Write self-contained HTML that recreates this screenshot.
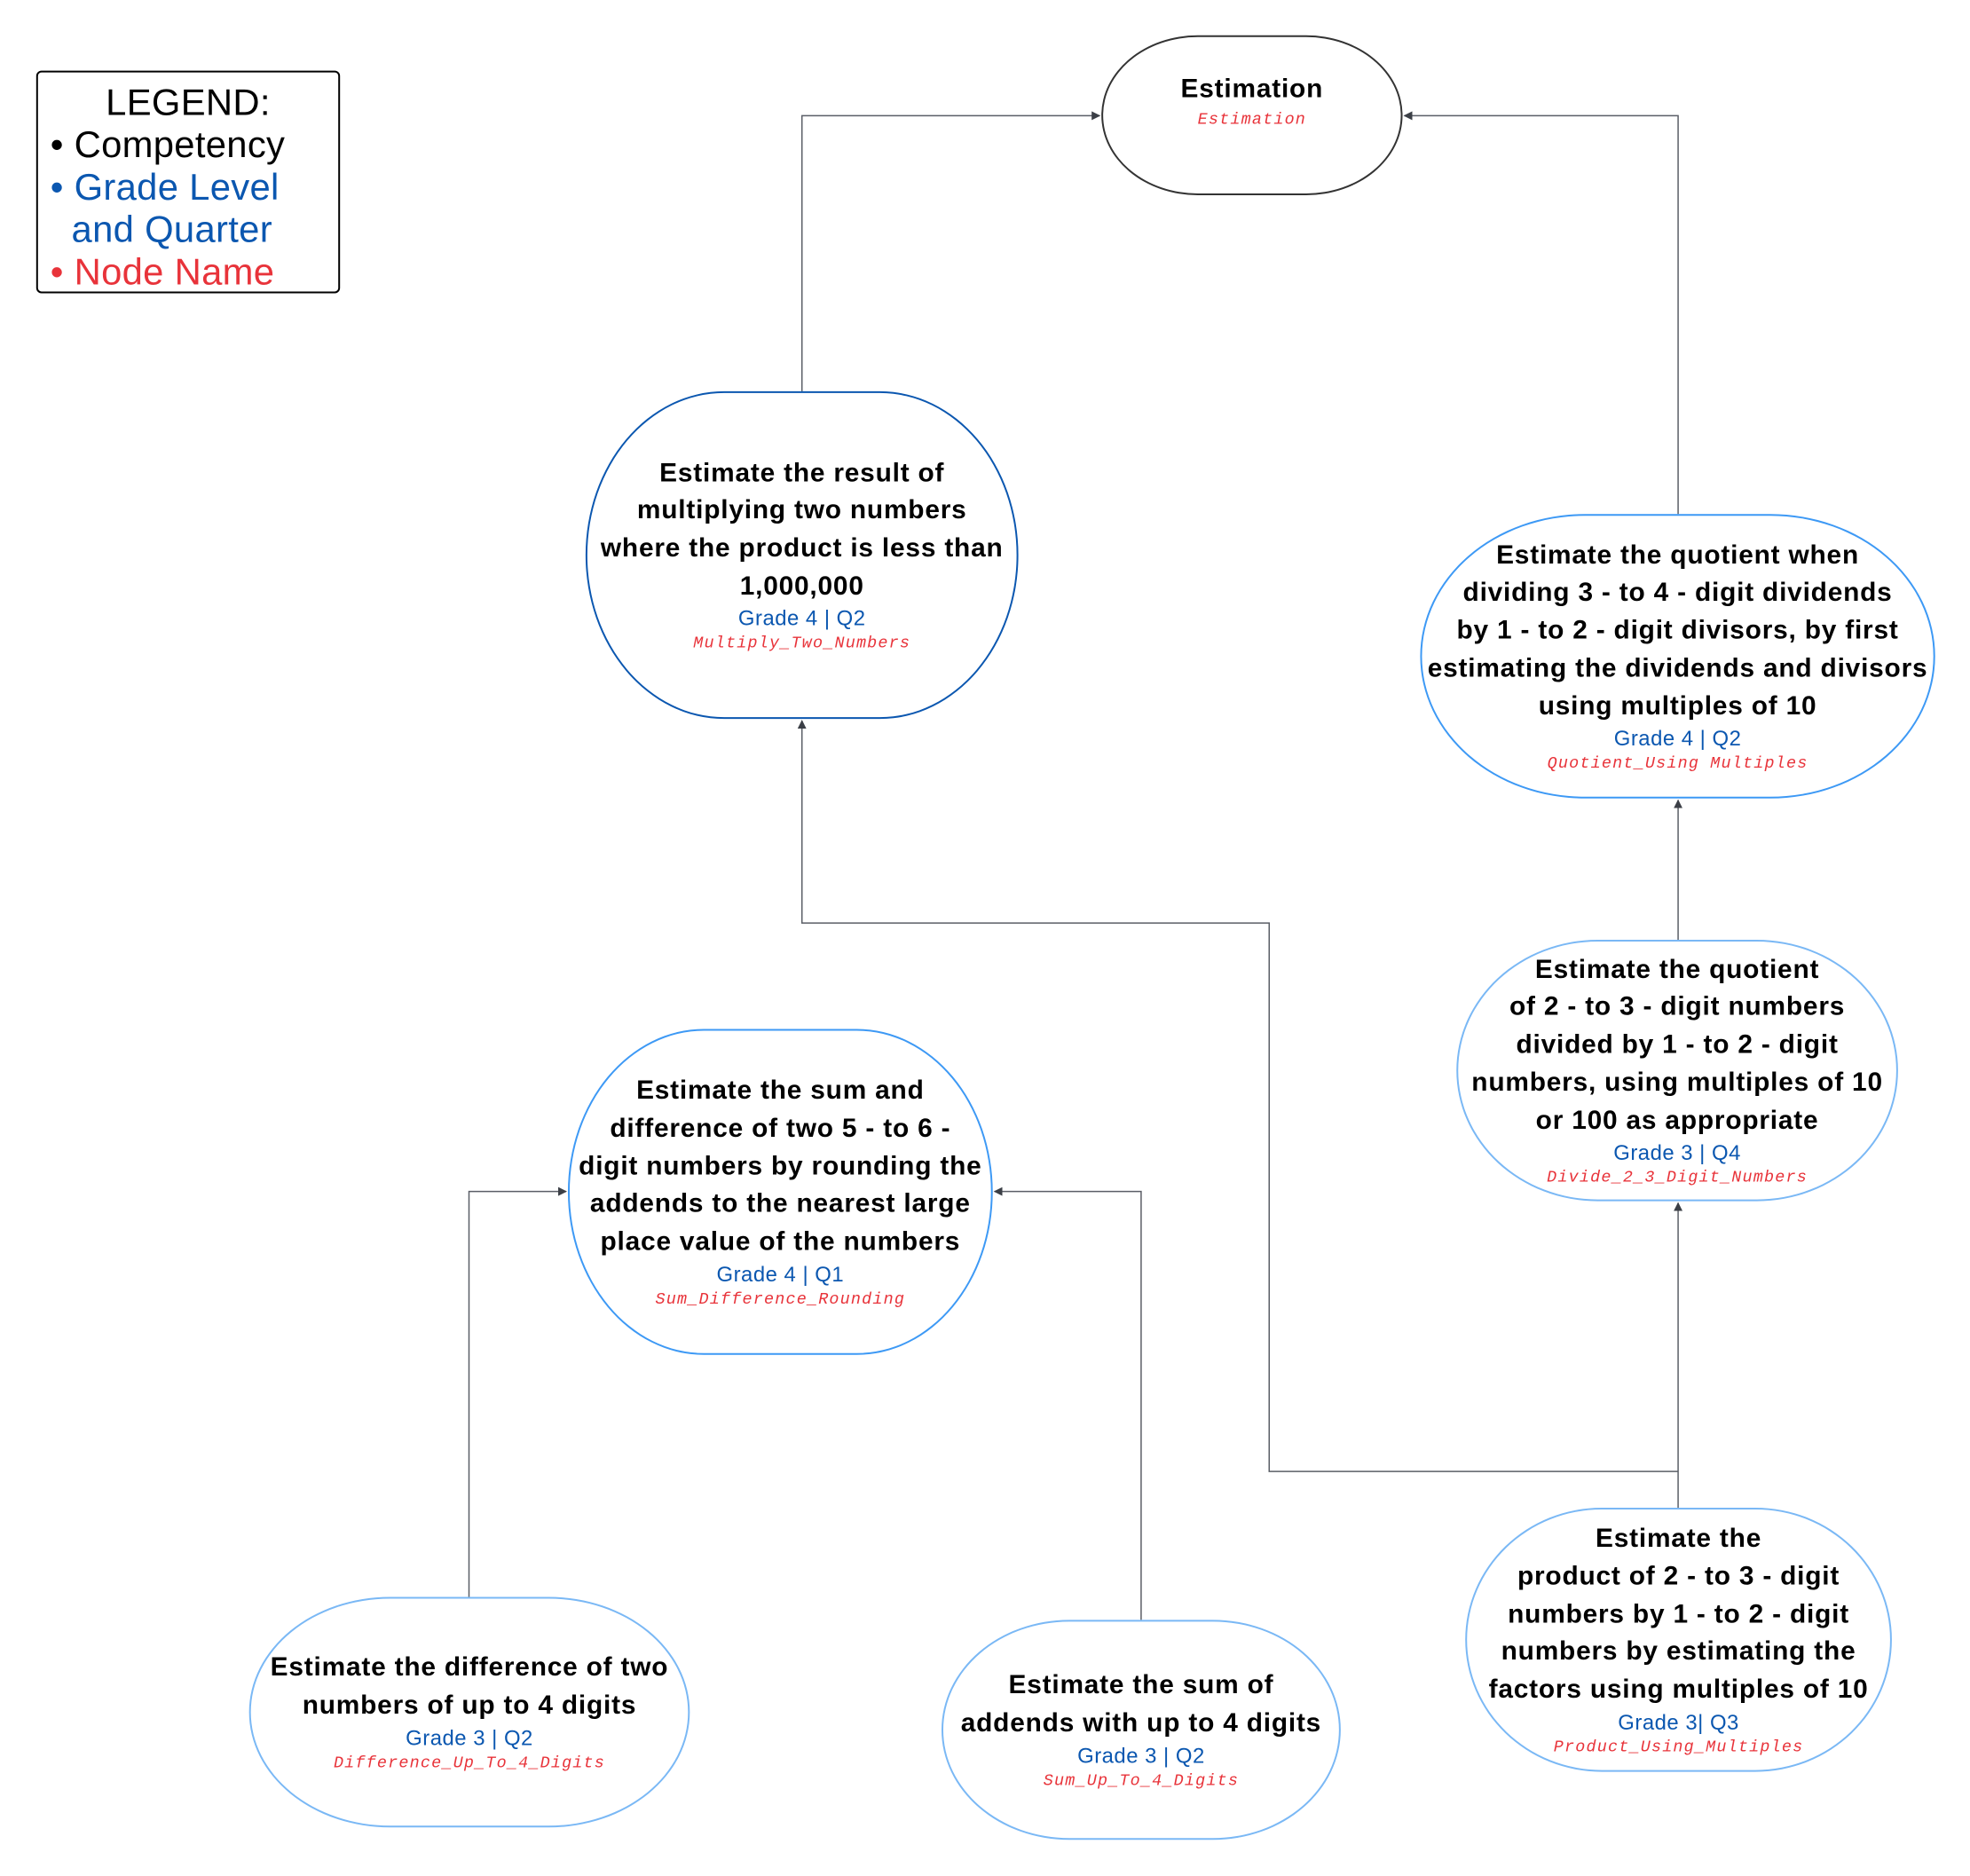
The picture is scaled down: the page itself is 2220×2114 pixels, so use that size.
<!DOCTYPE html>
<html><head><meta charset="utf-8"><style>
html,body{margin:0;padding:0;background:#fff}
body{width:2220px;height:2114px;position:relative;overflow:hidden;font-family:"Liberation Sans",sans-serif}
#w{position:absolute;left:0;top:0;width:2230px;height:2124px;transform:scale(0.9953);transform-origin:0 0}
.n{position:absolute;box-sizing:border-box;display:flex;flex-direction:column;align-items:center;justify-content:center;text-align:center;border:2px solid #3d99f5;border-radius:32%/50%;background:#fff}
.t{font-weight:bold;font-size:30px;line-height:42.7px;color:#000;letter-spacing:0.8px;white-space:nowrap}
.g{font-size:24px;line-height:31px;color:#0b57b0;letter-spacing:0.5px}
.k{font-family:"Liberation Mono",monospace;font-style:italic;font-size:18.5px;line-height:26px;color:#e8333a;letter-spacing:1.2px}
.legend{position:absolute;left:41px;top:80px;width:344px;height:252px;box-sizing:border-box;border:2px solid #000;border-radius:6px;font-size:42px;line-height:48px;padding:10px 0 0 14px;letter-spacing:0.3px}
svg{position:absolute;left:0;top:0}
</style></head><body><div id="w">
<svg width="2230" height="2124">
<defs><marker id="a" markerWidth="10" markerHeight="10" refX="9" refY="5" orient="auto" markerUnits="userSpaceOnUse"><path d="M0,0 L10,5 L0,10 z" fill="#3b3f46"/></marker></defs>
<g fill="none" stroke="#5a5e66" stroke-width="1.5">
<path d="M908,443 V131 H1245" marker-end="url(#a)"/>
<path d="M1900,582 V131 H1590" marker-end="url(#a)"/>
<path d="M1900,1064 V906" marker-end="url(#a)"/>
<path d="M1900,1707 V1362" marker-end="url(#a)"/>
<path d="M1900,1666 H1437 V1045 H908 V816" marker-end="url(#a)"/>
<path d="M531,1808 V1349 H641" marker-end="url(#a)"/>
<path d="M1292,1834 V1349 H1126" marker-end="url(#a)"/>
</g></svg>
<div class="legend">
<div style="text-align:center;padding-right:14px">LEGEND:</div>
<div>• Competency</div>
<div style="color:#0b57b0">• Grade Level<br>&nbsp;&nbsp;and Quarter</div>
<div style="color:#e8333a">• Node Name</div>
</div>
<div class="n" style="left:1247px;top:40px;width:341px;height:181px;border-color:#333;justify-content:flex-start;padding-top:38px"><div class="t">Estimation</div><div class="k">Estimation</div></div>
<div class="n" style="left:663px;top:443px;width:490px;height:371px;border-color:#0b57b0"><div class="t">Estimate the result of<br>multiplying two numbers<br>where the product is less than<br>1,000,000</div><div class="g">Grade 4 | Q2</div><div class="k">Multiply_Two_Numbers</div></div>
<div class="n" style="left:1608px;top:582px;width:583px;height:322px"><div class="t">Estimate the quotient when<br>dividing 3 - to 4 - digit dividends<br>by 1 - to 2 - digit divisors, by first<br>estimating the dividends and divisors<br>using multiples of 10</div><div class="g">Grade 4 | Q2</div><div class="k">Quotient_Using Multiples</div></div>
<div class="n" style="left:1649px;top:1064px;width:500px;height:296px;border-color:#7ab8f5"><div class="t">Estimate the quotient<br>of 2 - to 3 - digit numbers<br>divided by 1 - to 2 - digit<br>numbers, using multiples of 10<br>or 100 as appropriate</div><div class="g">Grade 3 | Q4</div><div class="k">Divide_2_3_Digit_Numbers</div></div>
<div class="n" style="left:643px;top:1165px;width:481px;height:369px"><div class="t">Estimate the sum and<br>difference of two 5 - to 6 -<br>digit numbers by rounding the<br>addends to the nearest large<br>place value of the numbers</div><div class="g">Grade 4 | Q1</div><div class="k">Sum_Difference_Rounding</div></div>
<div class="n" style="left:282px;top:1808px;width:499px;height:261px;border-color:#7ab8f5"><div class="t">Estimate the difference of two<br>numbers of up to 4 digits</div><div class="g">Grade 3 | Q2</div><div class="k">Difference_Up_To_4_Digits</div></div>
<div class="n" style="left:1066px;top:1834px;width:452px;height:249px;border-color:#7ab8f5"><div class="t">Estimate the sum of<br>addends with up to 4 digits</div><div class="g">Grade 3 | Q2</div><div class="k">Sum_Up_To_4_Digits</div></div>
<div class="n" style="left:1659px;top:1707px;width:483px;height:299px;border-color:#7ab8f5"><div class="t">Estimate the<br>product of 2 - to 3 - digit<br>numbers by 1 - to 2 - digit<br>numbers by estimating the<br>factors using multiples of 10</div><div class="g">Grade 3| Q3</div><div class="k">Product_Using_Multiples</div></div>
</div></body></html>
